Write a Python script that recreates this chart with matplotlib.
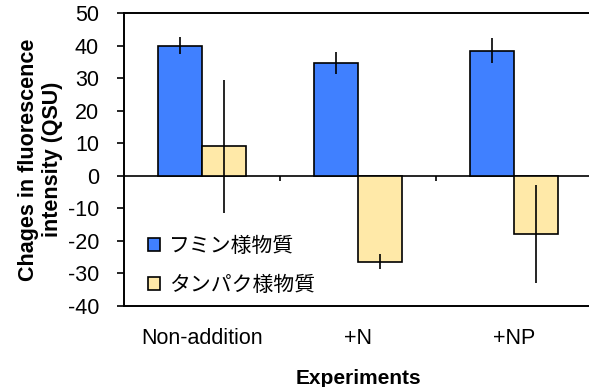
import matplotlib.pyplot as plt
import numpy as np

plt.rcParams['font.family'] = ['Liberation Sans', 'Noto Sans CJK JP', 'DejaVu Sans']
plt.rcParams['axes.unicode_minus'] = False

# Fluorescence changes per treatment (QSU)
experiments = ['Non-addition', '+N', '+NP']
humic = [40.0, 34.7, 38.4]
humic_err = [2.7, 3.4, 3.8]
protein = [9.0, -26.4, -17.9]
protein_err = [20.3, 2.3, 15.1]
series_names = ['フミン様物質', 'タンパク様物質']

blue = '#4080FF'
tan = '#FFE9A8'

fig = plt.figure(figsize=(5.89, 3.87), dpi=100)
ax = fig.add_axes([124 / 589, 81 / 387, 468 / 589, 293 / 387])

x = np.arange(len(experiments)) + 0.5
w = 0.282
ax.bar(x - w / 2, humic, w, color=blue, edgecolor='black', linewidth=1.2,
       label=series_names[0], zorder=2)
ax.bar(x + w / 2, protein, w, color=tan, edgecolor='black', linewidth=1.2,
       label=series_names[1], zorder=2)
ax.errorbar(x - w / 2, humic, yerr=humic_err, fmt='none', ecolor='black',
            elinewidth=1.2, capsize=0, zorder=3)
ax.errorbar(x + w / 2, protein, yerr=protein_err, fmt='none', ecolor='black',
            elinewidth=1.2, capsize=0, zorder=3)

# zero line with category separators
ax.axhline(0, color='black', linewidth=1.2, zorder=1)
bounds = np.arange(1, len(experiments))
ax.vlines(bounds, -1.6, 0, color='black', linewidth=1.2)

ax.set_xlim(0, len(experiments))
ax.set_ylim(-40, 50)
ax.set_yticks(np.arange(-40, 51, 10))
ax.set_xticks(x)
ax.set_xticklabels(experiments)
ax.tick_params(axis='x', length=0, pad=16, labelsize=15.5)
ax.tick_params(axis='y', direction='out', length=5, width=1.2, labelsize=15.5,
               pad=13)

for side in ['left', 'top', 'bottom']:
    ax.spines[side].set_linewidth(1.4)
ax.spines['right'].set_visible(False)

ax.set_ylabel('Chages in fluorescence\nintensity (QSU)', fontsize=15.5,
              fontweight='bold', labelpad=3, linespacing=1.2)
ax.set_xlabel('Experiments', fontsize=15, fontweight='bold', labelpad=14)

leg = ax.legend(loc='lower left', bbox_to_anchor=(0.011, -0.025), frameon=False,
                fontsize=15, handlelength=0.6, handleheight=0.6,
                handletextpad=0.4, labelspacing=0.95)

fig.savefig('out.png', dpi=100)
